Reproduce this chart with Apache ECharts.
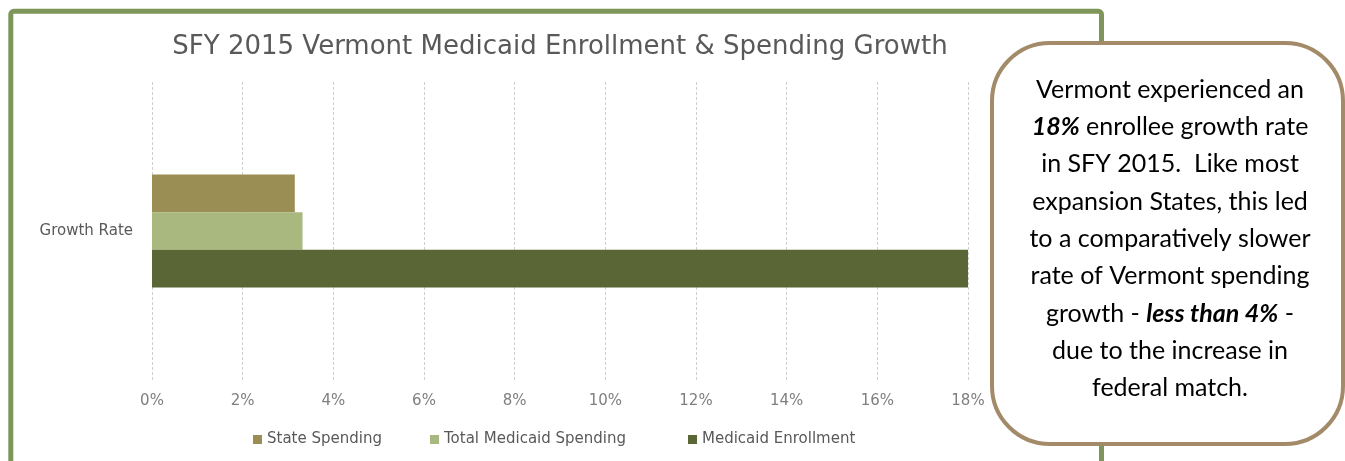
<!DOCTYPE html>
<html lang="en">

<head>
    <meta charset="UTF-8">
    <meta name="viewport" content="width=device-width, initial-scale=1.0">
    <title>SFY 2015 Vermont Medicaid Enrollment & Spending Growth</title>
    <style>
        html, body {
            margin: 0;
            padding: 0;
            background: #fff;
        }

        #myChart {
            width: 1345px;
            height: 461px;
        }
    </style>
</head>

<body>
    <div id='myChart'></div>
    <script src="https://cdn.jsdelivr.net/npm/echarts@6/dist/echarts.min.js"></script>
    <script>

// data
var categories = ['Growth Rate'];
var seriesNames = ['State Spending', 'Total Medicaid Spending', 'Medicaid Enrollment'];
var stateSpending = [3.15];
var totalSpending = [3.32];
var enrollment = [18.0];
var tickValues = [0, 2, 4, 6, 8, 10, 12, 14, 16, 18];

var colors = ['#9b8e55', '#a8b87e', '#5b6636'];
var seriesData = [stateSpending, totalSpending, enrollment];

var calloutLines = [
  'Vermont experienced an',
  '{b|18%} enrollee growth rate',
  'in SFY 2015.  Like most',
  'expansion States, this led',
  'to a comparatively slower',
  'rate of Vermont spending',
  'growth - {b|less than 4%} -',
  'due to the increase in',
  'federal match.'
];

var smallFont = 'DejaVu Sans';

// one legend per item so the icons sit where they are in the picture
var legendLefts = [248, 425, 683];
var legends = seriesNames.map(function(name, i) {
  return {
    data: [name],
    left: legendLefts[i],
    top: 427,
    icon: 'rect',
    itemWidth: 9,
    itemHeight: 9,
    itemGap: 6,
    textStyle: { color: '#595959', fontSize: 15, fontFamily: smallFont }
  };
});

var series = seriesNames.map(function(name, i) {
  return {
    name: name,
    type: 'bar',
    data: seriesData[i],
    itemStyle: { color: colors[i] },
    barGap: '0%',
    barCategoryGap: '62%',
    silent: true
  };
});

var chart = echarts.init(document.getElementById('myChart'));

var option = {
  animation: false,
  color: colors,
  title: {
    text: 'SFY 2015 Vermont Medicaid Enrollment & Spending Growth',
    left: 555,
    textAlign: 'center',
    top: 29,
    textStyle: { color: '#595959', fontSize: 26, fontWeight: 'normal', fontFamily: 'DejaVu Sans' }
  },
  legend: legends,
  grid: { left: 152, right: 377, top: 82, bottom: 81 },
  xAxis: {
    type: 'value',
    min: 0,
    max: tickValues[tickValues.length - 1],
    interval: 2,
    axisLine: { show: false },
    axisTick: { show: false },
    splitLine: { lineStyle: { color: '#d0d0d0', type: [3, 2], width: 1 } },
    axisLabel: {
      color: '#7f7f7f',
      fontSize: 15,
      fontFamily: smallFont,
      margin: 14,
      formatter: function(v) { return v + '%'; }
    }
  },
  yAxis: {
    type: 'category',
    data: categories,
    inverse: true,
    axisLine: { show: false },
    axisTick: { show: false },
    axisLabel: { color: '#595959', fontSize: 15, fontFamily: smallFont, margin: 19 }
  },
  series: series,
  graphic: [
    {
      // green frame around the chart
      type: 'rect',
      z: 0,
      shape: { x: 10.8, y: 11.3, width: 1090.7, height: 600, r: 3 },
      style: { fill: 'none', stroke: '#7f965a', lineWidth: 5 }
    },
    {
      // callout box
      type: 'rect',
      z: 10,
      shape: { x: 992, y: 43, width: 351, height: 401, r: 58 },
      style: { fill: '#fff', stroke: '#a38a68', lineWidth: 4 }
    },
    {
      type: 'text',
      z: 11,
      x: 1170,
      y: 71,
      style: {
        text: calloutLines.join('\n'),
        align: 'center',
        verticalAlign: 'top',
        fill: '#000',
        fontSize: 25,
        fontFamily: 'Lato',
        lineHeight: 37.3,
        rich: {
          b: { fontWeight: 'bold', fontStyle: 'italic', fontSize: 25, fontFamily: 'Lato', lineHeight: 37.3, fill: '#000' }
        }
      }
    }
  ]
};

chart.setOption(option);

    </script>
</body>

</html>
